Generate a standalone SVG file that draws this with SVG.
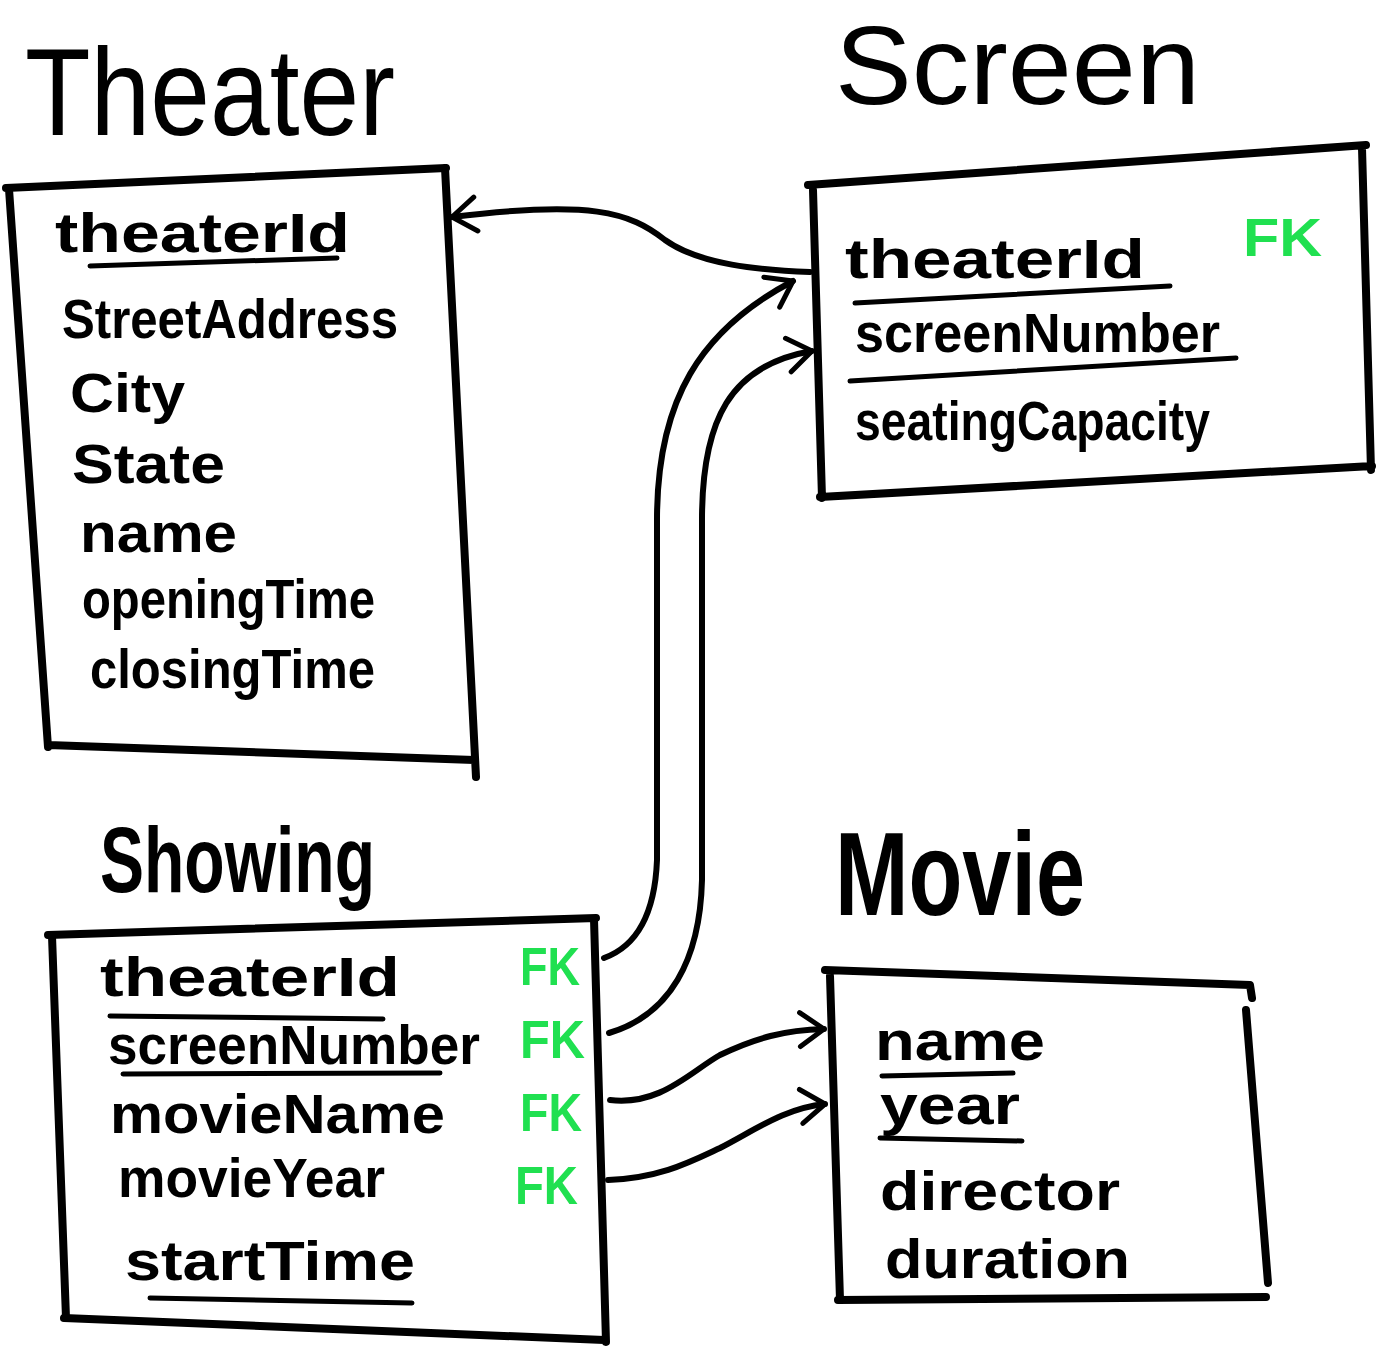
<svg xmlns="http://www.w3.org/2000/svg" width="1378" height="1346" viewBox="0 0 1378 1346">
  <style>
    .box { fill: none; stroke: #000; stroke-width: 8; stroke-linecap: round; stroke-linejoin: round; }
    .uline { fill: none; stroke: #000; stroke-width: 5; stroke-linecap: round; }
    .conn { fill: none; stroke: #000; stroke-width: 6; stroke-linecap: round; marker-end: url(#chev); }
    .title { font-family: "Liberation Sans", Arial, sans-serif; font-weight: 400; fill: #000; }
    .title-bold { font-family: "Liberation Sans", Arial, sans-serif; font-weight: 700; fill: #000; }
    .field { font-family: "Liberation Sans", Arial, sans-serif; font-weight: 700; fill: #000; font-size: 56px; }
    .fk { font-family: "Liberation Sans", Arial, sans-serif; font-weight: 700; fill: #20e050; font-size: 54px; }
  </style>
  <defs>
    <marker id="chev" viewBox="0 0 30 40" refX="27" refY="20" markerWidth="30" markerHeight="40" markerUnits="userSpaceOnUse" orient="auto">
      <path d="M3,3 L27,20 L3,37" fill="none" stroke="#000" stroke-width="5" stroke-linecap="round" stroke-linejoin="round"/>
    </marker>
  </defs>
  <rect width="1378" height="1346" fill="#fff"/>

  <!-- Theater entity -->
  <g id="theater">
    <text class="title" x="25" y="135" font-size="125" textLength="370" lengthAdjust="spacingAndGlyphs">Theater</text>
    <path class="box" d="M6,188 L446,168 M445,168 L476,777 M474,760 L48,745 M48,747 L9,189"/>
    <text class="field" x="55" y="252" font-size="62" textLength="295" lengthAdjust="spacingAndGlyphs">theaterId</text>
    <path class="uline" d="M90,266 L337,258"/>
    <text class="field" x="62" y="338" textLength="336" lengthAdjust="spacingAndGlyphs">StreetAddress</text>
    <text class="field" x="70" y="412" textLength="115" lengthAdjust="spacingAndGlyphs">City</text>
    <text class="field" x="72" y="483" textLength="153" lengthAdjust="spacingAndGlyphs">State</text>
    <text class="field" x="80" y="552" font-size="58" textLength="157" lengthAdjust="spacingAndGlyphs">name</text>
    <text class="field" x="82" y="618" textLength="293" lengthAdjust="spacingAndGlyphs">openingTime</text>
    <text class="field" x="90" y="688" textLength="285" lengthAdjust="spacingAndGlyphs">closingTime</text>
  </g>

  <!-- Screen entity -->
  <g id="screen">
    <text class="title" x="835" y="104" font-size="112" textLength="365" lengthAdjust="spacingAndGlyphs">Screen</text>
    <path class="box" d="M808,185 L1366,145 M813,190 L822,498 M820,497 L1372,466 M1362,148 L1371,470"/>
    <text class="field" x="845" y="278" font-size="62" textLength="300" lengthAdjust="spacingAndGlyphs">theaterId</text>
    <text class="fk" x="1243" y="256" textLength="79" lengthAdjust="spacingAndGlyphs">FK</text>
    <path class="uline" d="M855,303 L1170,286"/>
    <text class="field" x="855" y="352" textLength="365" lengthAdjust="spacingAndGlyphs">screenNumber</text>
    <path class="uline" d="M850,381 L1236,358"/>
    <text class="field" x="855" y="440" textLength="355" lengthAdjust="spacingAndGlyphs">seatingCapacity</text>
  </g>

  <!-- Showing entity -->
  <g id="showing">
    <text class="title-bold" x="100" y="892" font-size="92" textLength="275" lengthAdjust="spacingAndGlyphs">Showing</text>
    <path class="box" d="M48,935 L596,918 M52,936 L66,1318 M64,1318 L604,1340 M594,919 L606,1342"/>
    <text class="field" x="100" y="996" font-size="58" textLength="300" lengthAdjust="spacingAndGlyphs">theaterId</text>
    <text class="fk" x="520" y="985" textLength="60" lengthAdjust="spacingAndGlyphs">FK</text>
    <path class="uline" d="M110,1016 L383,1019"/>
    <text class="field" x="108" y="1064" font-size="52" textLength="372" lengthAdjust="spacingAndGlyphs">screenNumber</text>
    <text class="fk" x="520" y="1058" textLength="65" lengthAdjust="spacingAndGlyphs">FK</text>
    <path class="uline" d="M123,1074 L440,1073"/>
    <text class="field" x="110" y="1133" textLength="335" lengthAdjust="spacingAndGlyphs">movieName</text>
    <text class="fk" x="520" y="1131" textLength="62" lengthAdjust="spacingAndGlyphs">FK</text>
    <text class="field" x="118" y="1197" font-size="52" textLength="267" lengthAdjust="spacingAndGlyphs">movieYear</text>
    <text class="fk" x="515" y="1204" textLength="63" lengthAdjust="spacingAndGlyphs">FK</text>
    <text class="field" x="125" y="1280" textLength="290" lengthAdjust="spacingAndGlyphs">startTime</text>
    <path class="uline" d="M150,1298 L412,1303"/>
  </g>

  <!-- Movie entity -->
  <g id="movie">
    <text class="title-bold" x="835" y="915" font-size="118" textLength="250" lengthAdjust="spacingAndGlyphs">Movie</text>
    <path class="box" d="M825,970 L1250,985 L1252,998 M830,976 L840,1300 M838,1300 L1266,1297 M1246,1010 L1268,1283"/>
    <text class="field" x="875" y="1060" font-size="62" textLength="170" lengthAdjust="spacingAndGlyphs">name</text>
    <path class="uline" d="M882,1076 L1013,1073"/>
    <text class="field" x="880" y="1124" font-size="60" textLength="140" lengthAdjust="spacingAndGlyphs">year</text>
    <path class="uline" d="M880,1138 L1022,1141"/>
    <text class="field" x="880" y="1210" font-size="60" textLength="240" lengthAdjust="spacingAndGlyphs">director</text>
    <text class="field" x="885" y="1278" font-size="60" textLength="245" lengthAdjust="spacingAndGlyphs">duration</text>
  </g>

  <!-- Relationship connectors -->
  <g id="connectors">
    <path class="conn" d="M810,272 C760,270 700,265 665,240 C630,212 590,200 452,217"/>
    <path class="conn" d="M604,958 C640,945 655,910 657,860 L657,520 C657,400 700,330 793,281"/>
    <path class="conn" d="M609,1033 C670,1015 700,960 702,880 L702,520 C702,420 730,365 812,351"/>
    <path class="conn" d="M610,1100 C660,1106 690,1072 720,1055 C755,1038 785,1030 824,1029"/>
    <path class="conn" d="M608,1180 C660,1178 690,1162 720,1148 C755,1130 785,1108 825,1104"/>
  </g>
</svg>
